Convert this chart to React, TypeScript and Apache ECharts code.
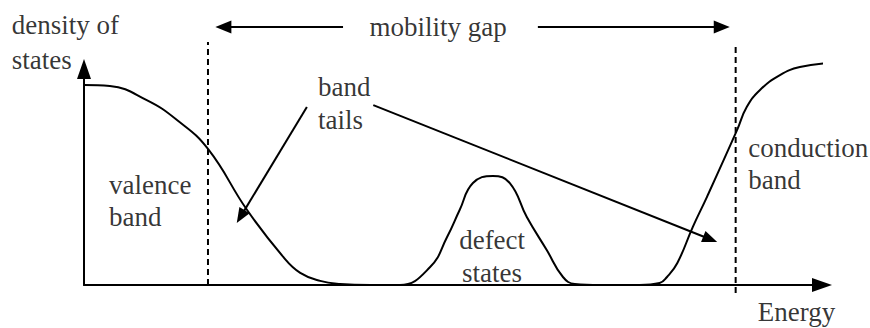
import React, { useEffect, useRef } from "react";
import * as echarts from "echarts";

// Density-of-states curve (energy 0..100, density 0..100, arbitrary units)
const energy = [
  0, 3.5, 8.5, 12.6, 16.8, 22.1, 27.0, 29.3, 32.0, 34.7, 38.8,
  42.8, 46.9, 49.2, 50.9, 52.7, 55.4, 57.7, 60.0, 62.7, 64.9, 66.5, 69.9,
  75.3, 78.0, 79.0, 80.4, 82.5, 84.4, 88.5, 89.8, 91.6, 94.3, 97.0, 101.1,
];
const density = [
  92.6, 92.1, 85.6, 76.4, 63.0, 34.7, 13.0, 5.6, 1.9, 0.5, 0,
  0, 8.3, 22.2, 34.7, 47.2, 50.5, 47.2, 31.5, 16.2, 3.7, 0.5, 0,
  0, 0.9, 3.7, 10.2, 26.9, 40.7, 71.8, 82.4, 90.3, 97.2, 100.9, 102.8,
];

// Mobility edges (dashed lines): energy, bottom, top
const edgeEnergy = [16.8, 88.3];
const edgeBottom = [0, -3.7];
const edgeTop = [112.5, 110.2];

// Arrows [fromX, fromY, toX, toY]
const gapArrows = [
  [35.1, 119.4, 17.8, 119.4],
  [61.5, 119.4, 87.5, 119.4],
];
const tailArrows = [
  [30.2, 82.4, 20.7, 28.7],
  [39.2, 83.3, 85.8, 19.9],
];

// Labels
const labelText = [
  "density of", "states", "mobility gap", "band", "tails",
  "valence", "band", "defect", "states", "conduction", "band", "Energy",
];
const labelX = [-9.8, -9.8, 48.0, 31.7, 31.7, 3.4, 3.4, 55.3, 55.3, 90.0, 90.0, 91.3];
const labelY = [120.4, 104.2, 119.4, 91.7, 76.4, 46.3, 31.5, 20.8, 5.6, 63.4, 48.6, -12.5];
const labelAlign = [
  "left", "left", "center", "left", "left",
  "left", "left", "center", "center", "left", "left", "left",
];

export default function App() {
  const ref = useRef<HTMLDivElement>(null);

  useEffect(() => {
    if (!ref.current) return;
    const chart = echarts.init(ref.current, undefined, { renderer: "svg" });
    const axisLine = {
      show: true,
      symbol: ["none", "triangle"],
      symbolSize: [14, 20],
      lineStyle: { color: "#000", width: 2 },
    };
    chart.setOption({
      animation: false,
      grid: { left: 84, right: 48, top: 69, bottom: 43 },
      xAxis: {
        type: "value",
        min: 0,
        max: 100,
        axisLine,
        axisTick: { show: false },
        axisLabel: { show: false },
        splitLine: { show: false },
      },
      yAxis: {
        type: "value",
        min: 0,
        max: 100,
        axisLine,
        axisTick: { show: false },
        axisLabel: { show: false },
        splitLine: { show: false },
      },
      series: [
        {
          type: "line",
          data: energy.map((e, i) => [e, density[i]]),
          showSymbol: false,
          smooth: 0.45,
          clip: false,
          lineStyle: { color: "#000", width: 2 },
          z: 3,
        },
        {
          type: "scatter",
          silent: true,
          clip: false,
          symbol: "circle",
          symbolSize: 1,
          itemStyle: { color: "rgba(0,0,0,0)" },
          z: 5,
          label: {
            show: true,
            position: "inside",
            formatter: "{b}",
            color: "#000",
            fontSize: 27,
            fontFamily: "Liberation Serif",
            verticalAlign: "middle",
          },
          data: labelText.map((t, i) => ({
            name: t,
            value: [labelX[i], labelY[i]],
            label: { align: labelAlign[i] },
          })),
        },
      ],
    });

    const px = (x: number, y: number) =>
      chart.convertToPixel({ gridIndex: 0 }, [x, y]) as number[];

    const els: any[] = [];

    edgeEnergy.forEach((e, i) => {
      const a = px(e, edgeBottom[i]);
      const b = px(e, edgeTop[i]);
      els.push({
        type: "line",
        shape: { x1: a[0], y1: a[1], x2: b[0], y2: b[1] },
        style: { stroke: "#000", lineWidth: 2, lineDash: [6, 4] },
      });
    });

    const arrow = (arr: number[], len: number, width: number) => {
      const f = px(arr[0], arr[1]);
      const t = px(arr[2], arr[3]);
      const dx = t[0] - f[0];
      const dy = t[1] - f[1];
      const d = Math.hypot(dx, dy);
      const ux = dx / d;
      const uy = dy / d;
      const bx = t[0] - ux * len;
      const by = t[1] - uy * len;
      const nx = -uy * (width / 2);
      const ny = ux * (width / 2);
      els.push({
        type: "line",
        shape: { x1: f[0], y1: f[1], x2: bx + ux * 2, y2: by + uy * 2 },
        style: { stroke: "#000", lineWidth: 2 },
      });
      els.push({
        type: "polygon",
        shape: {
          points: [
            [t[0], t[1]],
            [bx + nx, by + ny],
            [bx - nx, by - ny],
          ],
        },
        style: { fill: "#000" },
      });
    };
    gapArrows.forEach((a) => arrow(a, 16, 13));
    tailArrows.forEach((a) => arrow(a, 15, 12));

    chart.setOption({ graphic: { elements: els } });

    return () => chart.dispose();
  }, []);

  return (
    <div
      ref={ref}
      style={{ position: "absolute", left: 0, top: 0, width: 870, height: 328, background: "#fff" }}
    />
  );
}
